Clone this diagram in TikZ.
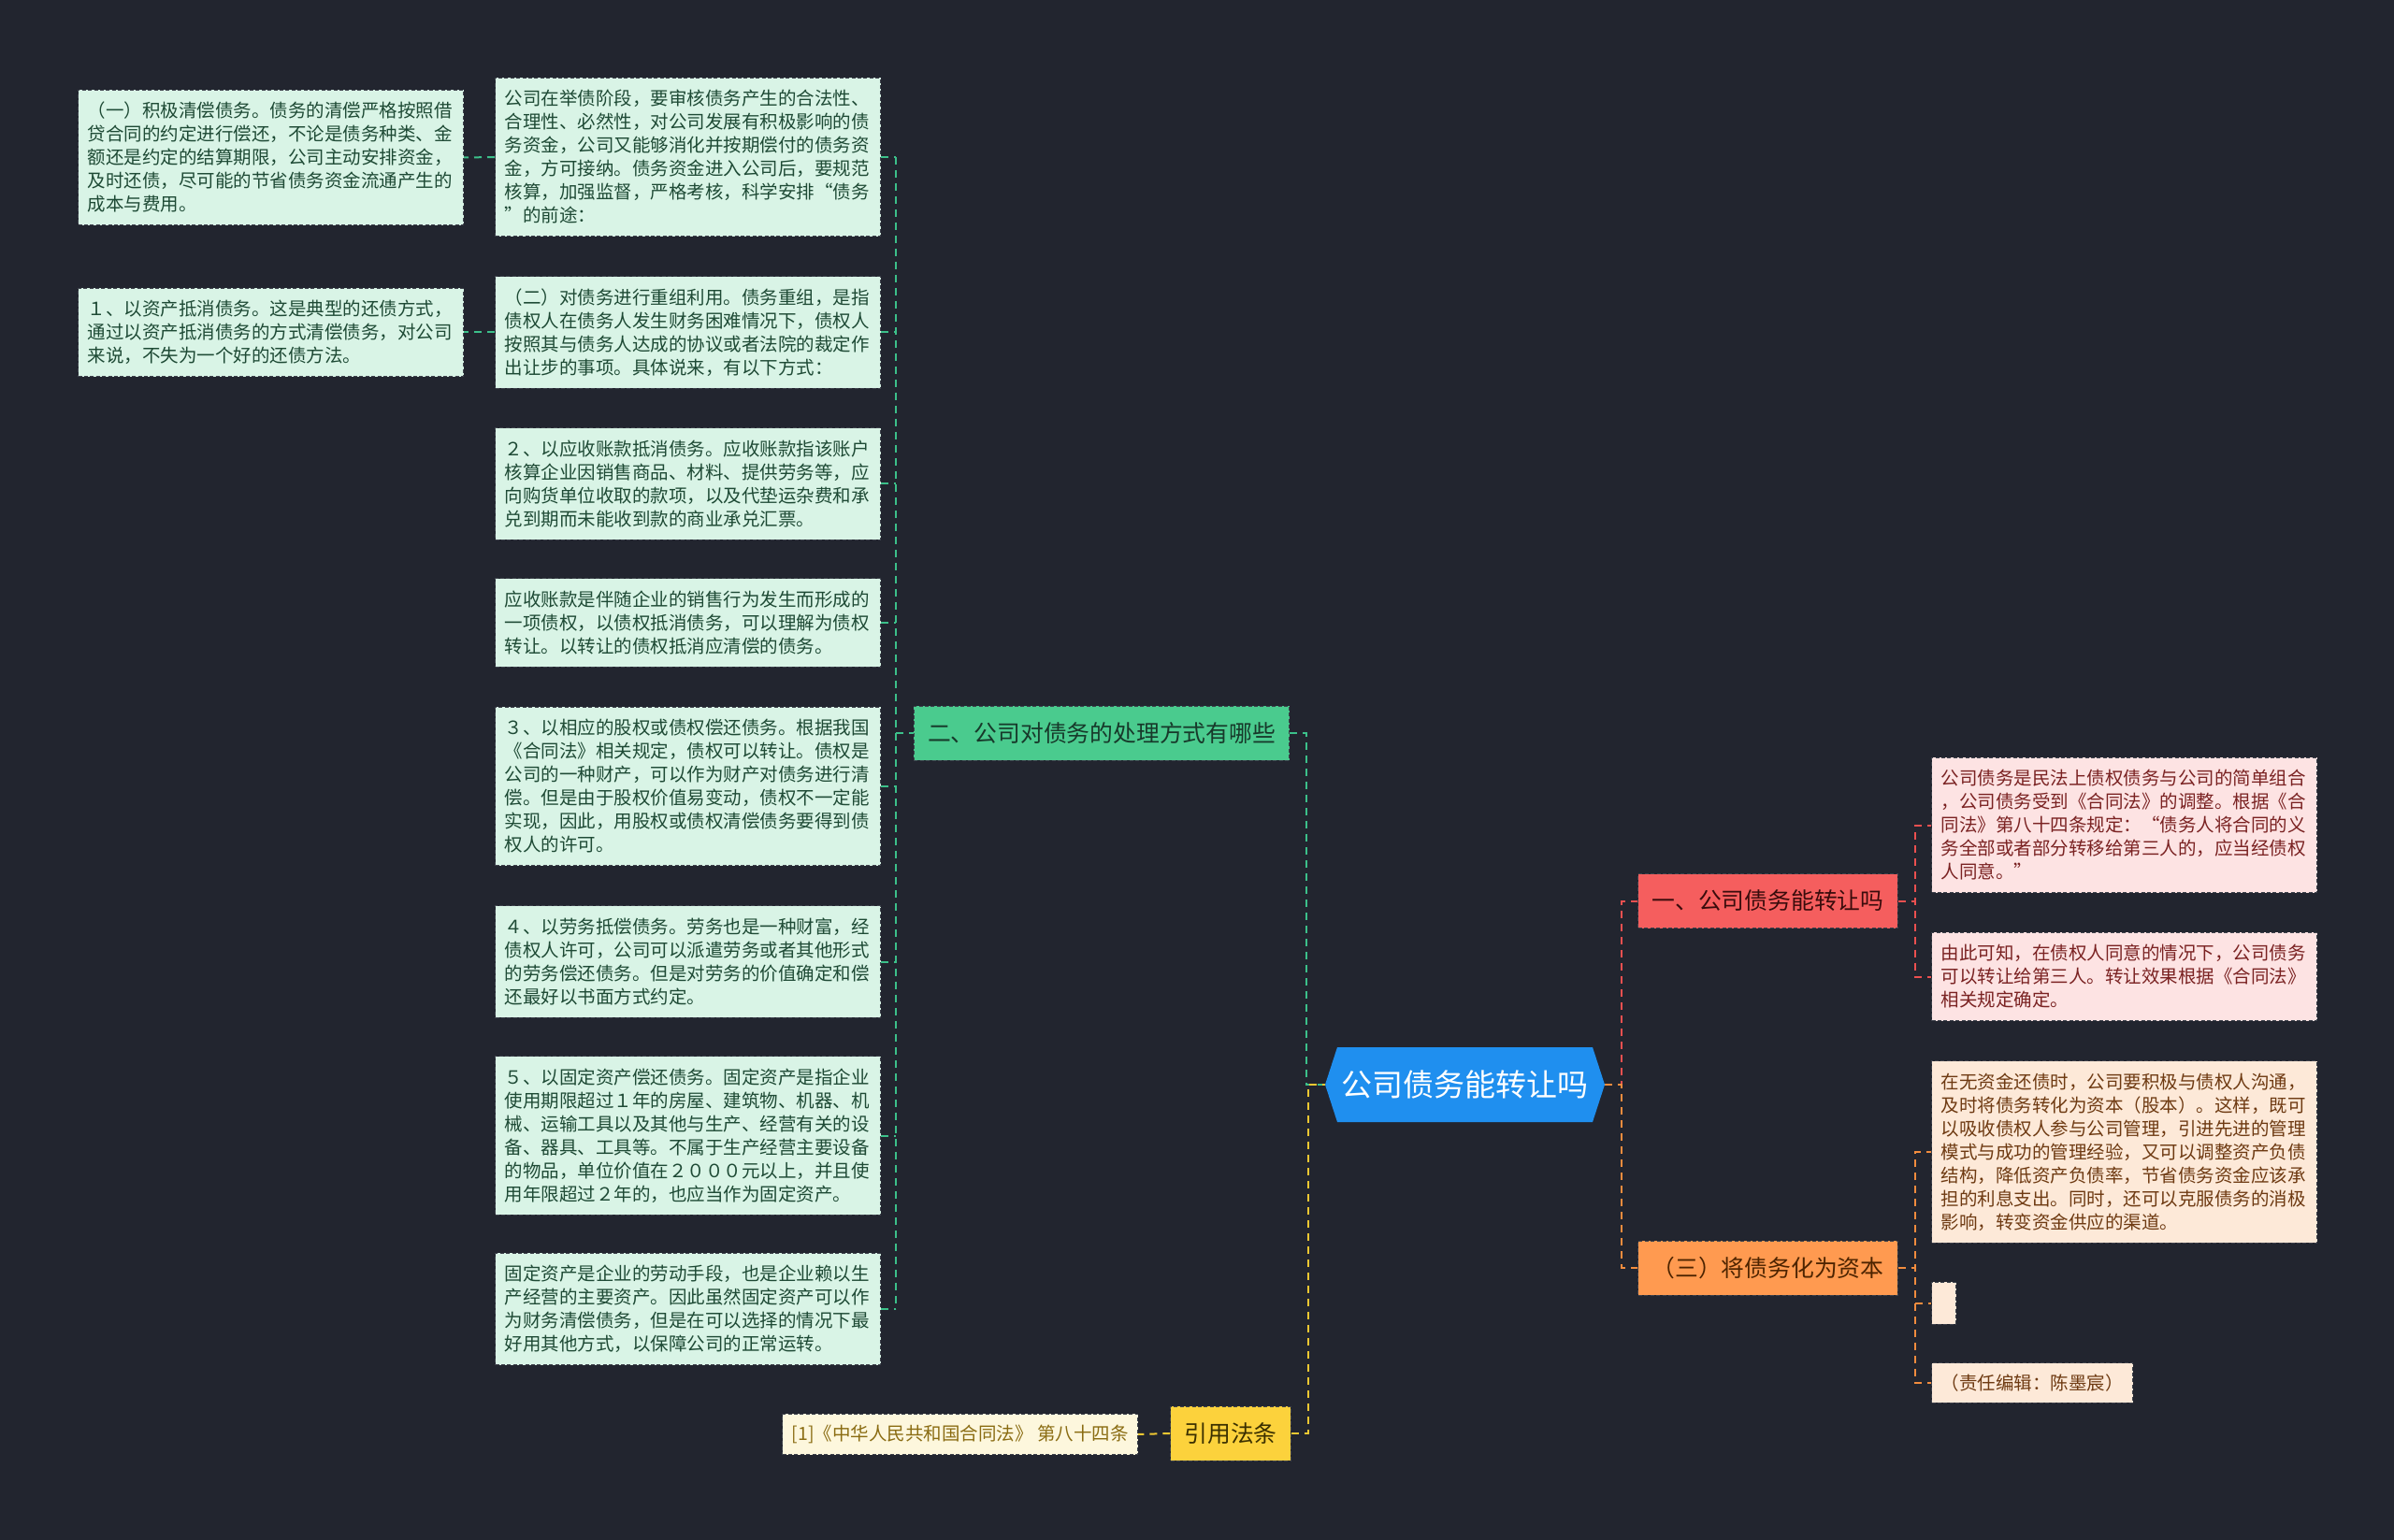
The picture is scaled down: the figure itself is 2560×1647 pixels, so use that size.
\documentclass[tikz,border=0pt]{standalone}
\usepackage{fontspec}
\setmainfont{Noto Sans CJK SC}
\usetikzlibrary{calc}
\definecolor{bg}{HTML}{22252F}
\definecolor{mint}{HTML}{D9F4E6}
\definecolor{mintText}{HTML}{1E4A35}
\definecolor{gnode}{HTML}{4ACB8E}
\definecolor{gnodeText}{HTML}{17392A}
\definecolor{gline}{HTML}{3CC08A}
\definecolor{bnode}{HTML}{1F8FEF}
\definecolor{rnode}{HTML}{F55E5E}
\definecolor{rnodeText}{HTML}{3A0C0C}
\definecolor{pink}{HTML}{FDE3E3}
\definecolor{pinkText}{HTML}{7A2222}
\definecolor{rline}{HTML}{EC5050}
\definecolor{onode}{HTML}{FF9A50}
\definecolor{onodeText}{HTML}{4D2400}
\definecolor{peach}{HTML}{FDE9D8}
\definecolor{peachText}{HTML}{6E3A12}
\definecolor{oline}{HTML}{F28C3E}
\definecolor{ynode}{HTML}{FCD23C}
\definecolor{ynodeText}{HTML}{3B3000}
\definecolor{cream}{HTML}{FDF7DD}
\definecolor{creamText}{HTML}{8A6C12}
\definecolor{yline}{HTML}{F0C832}
\definecolor{boxborder}{HTML}{3E424C}
\newcommand{\leaffont}{\fontsize{9.75pt}{12.5pt}\selectfont}
\newcommand{\branchfont}{\fontsize{12.4pt}{14pt}\selectfont}
\newcommand{\rootfont}{\fontsize{16.5pt}{18pt}\selectfont}
\tikzset{
  boxline/.style={draw=boxborder, line width=0.5pt, dash pattern=on 2pt off 1.2pt},
  leaf/.style={boxline, text width=196pt, align=left, inner xsep=5pt, inner ysep=6.5pt, font=\leaffont, anchor=west},
  gleaf/.style={leaf, fill=mint, text=mintText},
  pleaf/.style={leaf, fill=pink, text=pinkText},
  oleaf/.style={leaf, fill=peach, text=peachText},
  smallbox/.style={boxline, inner xsep=5pt, inner ysep=6pt, font=\leaffont},
  branch/.style={boxline, inner xsep=7.3pt, inner ysep=0pt, minimum height=29pt, font=\branchfont},
  conn/.style={line width=1pt, dash pattern=on 4pt off 3pt},
}
\begin{document}
\begin{tikzpicture}[x=0.5pt,y=-0.5pt]
\fill[bg] (0,0) rectangle (2560,1647);
\useasboundingbox (0,0) rectangle (2560,1647);

% root
\coordinate (cc) at (1566.5,1160);
\fill[bnode] ($(cc)+(-149.5,0)$) -- ($(cc)+(-136.5,-40)$) -- ($(cc)+(136.5,-40)$) -- ($(cc)+(149.5,0)$) -- ($(cc)+(136.5,40)$) -- ($(cc)+(-136.5,40)$) -- cycle;
\node[minimum width=149.5pt, minimum height=40pt, inner sep=0pt, font=\rootfont, text=white] (C) at (cc) {公司债务能转让吗};

% branch nodes
\node[branch, fill=gnode, text=gnodeText] (G) at (1178,784) {二、公司对债务的处理方式有哪些};
\node[branch, fill=ynode, text=ynodeText] (Y) at (1316,1533) {引用法条};
\node[branch, fill=rnode, text=rnodeText] (R) at (1890.5,963.5) {一、公司债务能转让吗};
\node[branch, fill=onode, text=onodeText] (O) at (1890.5,1356) {（三）将债务化为资本};

% middle column
\node[gleaf] (M1) at (529,168) {公司在举债阶段，要审核债务产生的合法性、\\合理性、必然性，对公司发展有积极影响的债\\务资金，公司又能够消化并按期偿付的债务资\\金，方可接纳。债务资金进入公司后，要规范\\核算，加强监督，严格考核，科学安排“债务\\”的前途：};
\node[gleaf] (M2) at (529,355.5) {（二）对债务进行重组利用。债务重组，是指\\债权人在债务人发生财务困难情况下，债权人\\按照其与债务人达成的协议或者法院的裁定作\\出让步的事项。具体说来，有以下方式：};
\node[gleaf] (M3) at (529,517.5) {２、以应收账款抵消债务。应收账款指该账户\\核算企业因销售商品、材料、提供劳务等，应\\向购货单位收取的款项，以及代垫运杂费和承\\兑到期而未能收到款的商业承兑汇票。};
\node[gleaf] (M4) at (529,666) {应收账款是伴随企业的销售行为发生而形成的\\一项债权，以债权抵消债务，可以理解为债权\\转让。以转让的债权抵消应清偿的债务。};
\node[gleaf] (M5) at (529,841) {３、以相应的股权或债权偿还债务。根据我国\\《合同法》相关规定，债权可以转让。债权是\\公司的一种财产，可以作为财产对债务进行清\\偿。但是由于股权价值易变动，债权不一定能\\实现，因此，用股权或债权清偿债务要得到债\\权人的许可。};
\node[gleaf] (M6) at (529,1028.5) {４、以劳务抵偿债务。劳务也是一种财富，经\\债权人许可，公司可以派遣劳务或者其他形式\\的劳务偿还债务。但是对劳务的价值确定和偿\\还最好以书面方式约定。};
\node[gleaf] (M7) at (529,1214.5) {５、以固定资产偿还债务。固定资产是指企业\\使用期限超过１年的房屋、建筑物、机器、机\\械、运输工具以及其他与生产、经营有关的设\\备、器具、工具等。不属于生产经营主要设备\\的物品，单位价值在２０００元以上，并且使\\用年限超过２年的，也应当作为固定资产。};
\node[gleaf] (M8) at (529,1400) {固定资产是企业的劳动手段，也是企业赖以生\\产经营的主要资产。因此虽然固定资产可以作\\为财务清偿债务，但是在可以选择的情况下最\\好用其他方式，以保障公司的正常运转。};

% left column
\node[gleaf] (L1) at (83,168.5) {（一）积极清偿债务。债务的清偿严格按照借\\贷合同的约定进行偿还，不论是债务种类、金\\额还是约定的结算期限，公司主动安排资金，\\及时还债，尽可能的节省债务资金流通产生的\\成本与费用。};
\node[gleaf] (L2) at (83,355.5) {１、以资产抵消债务。这是典型的还债方式，\\通过以资产抵消债务的方式清偿债务，对公司\\来说，不失为一个好的还债方法。};

% citation
\node[smallbox, fill=cream, text=creamText, anchor=east] (CI) at (1217,1534) {[1]《中华人民共和国合同法》 第八十四条};

% right column
\node[pleaf] (R1) at (2065,882.5) {公司债务是民法上债权债务与公司的简单组合\\，公司债务受到《合同法》的调整。根据《合\\同法》第八十四条规定：“债务人将合同的义\\务全部或者部分转移给第三人的，应当经债权\\人同意。”};
\node[pleaf] (R2) at (2065,1044.5) {由此可知，在债权人同意的情况下，公司债务\\可以转让给第三人。转让效果根据《合同法》\\相关规定确定。};
\node[oleaf] (O1) at (2065,1232) {在无资金还债时，公司要积极与债权人沟通，\\及时将债务转化为资本（股本）。这样，既可\\以吸收债权人参与公司管理，引进先进的管理\\模式与成功的管理经验，又可以调整资产负债\\结构，降低资产负债率，节省债务资金应该承\\担的利息支出。同时，还可以克服债务的消极\\影响，转变资金供应的渠道。};
\node[boxline, fill=peach, minimum width=13pt, minimum height=22.5pt, inner sep=0pt, anchor=west] (O2) at (2065,1393.5) {};
\node[smallbox, fill=peach, text=peachText, anchor=west] (O3) at (2065,1479) {（责任编辑：陈墨宸）};

% connectors: green group with one shared trunk
\coordinate (vt) at ($(M1.east)+(16,0)$);
\coordinate (vb) at ($(M8.east)+(16,0)$);
\foreach \m in {M1,M2,M3,M4,M5,M6,M7,M8}{
  \draw[conn, gline] (\m.east) -- (vt |- \m.east);
}
\draw[conn, gline] (vt) -- (vb);
\draw[conn, gline] (vt |- G.west) -- (G.west);
\draw[conn, gline] (M1.west) -- (L1.east);
\draw[conn, gline] (M2.west) -- (L2.east);
\draw[conn, gline] (G.east) -- ++(18,0) |- (C.west);
\draw[conn, yline] (Y.east) -- ++(18,0) |- (C.west);
\draw[conn, yline] (Y.west) -- (CI.east);
\draw[conn, rline] (C.east) -- ++(18,0) |- (R.west);
\draw[conn, oline] (C.east) -- ++(18,0) |- (O.west);
\draw[conn, rline] (R.east) -- ++(18,0) |- (R1.west);
\draw[conn, rline] (R.east) -- ++(18,0) |- (R2.west);
\draw[conn, oline] (O.east) -- ++(18,0) |- (O1.west);
\draw[conn, oline] (O.east) -- ++(18,0) |- (O2.west);
\draw[conn, oline] (O.east) -- ++(18,0) |- (O3.west);
\end{tikzpicture}
\end{document}
